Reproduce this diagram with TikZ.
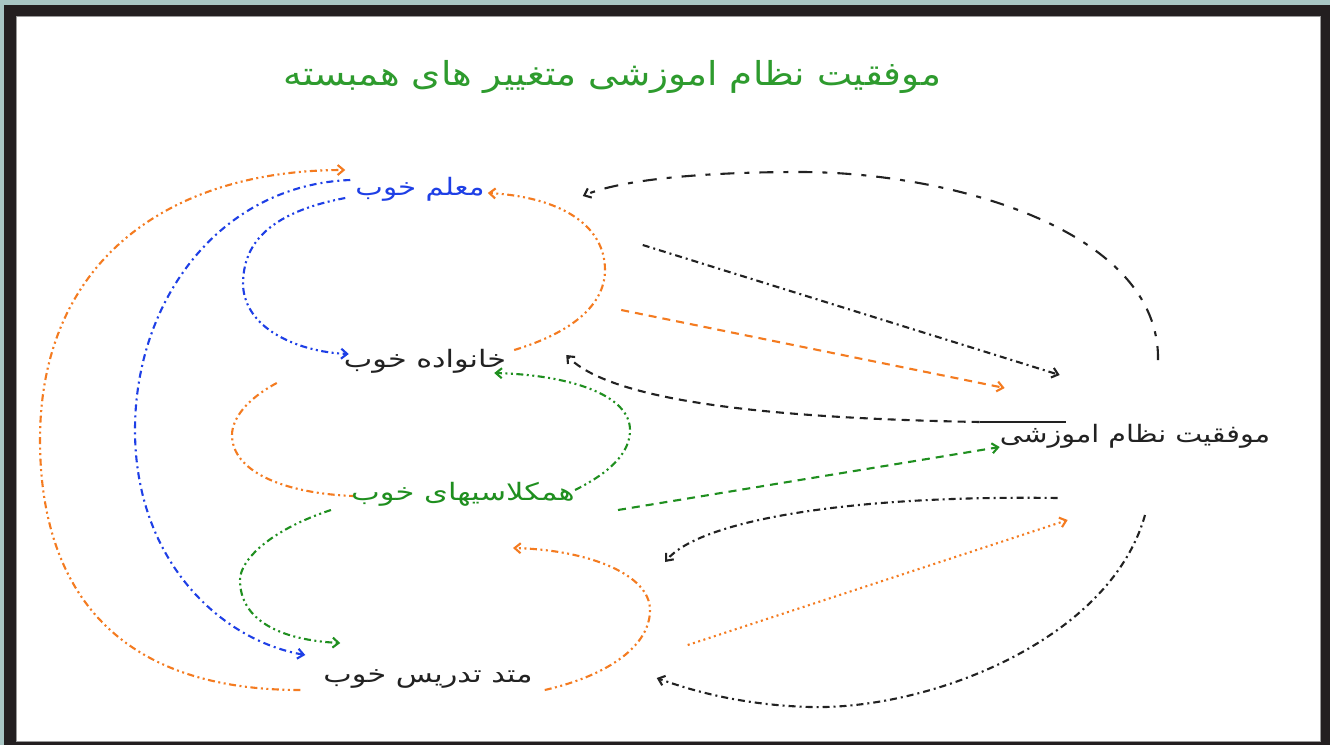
\documentclass[tikz,border=0pt]{standalone}
\usepackage{fontspec}
\usepackage{graphicx}
\newfontfamily\arabicfont[Script=Arabic]{DejaVu Sans}
\TeXXeTstate=1
\usetikzlibrary{arrows.meta}
\definecolor{orng}{HTML}{F47B20}
\definecolor{blu}{HTML}{1E3FE6}
\definecolor{grn}{HTML}{1F8F1F}
\definecolor{ttl}{HTML}{2E9B2E}
\definecolor{frm}{HTML}{231F20}
\definecolor{bgt}{HTML}{A8C6C4}
\definecolor{txt}{HTML}{222222}
\newcommand{\artxt}[2][1.25]{\scalebox{#1}[1]{\beginR #2\endR}}
\begin{document}
\begin{tikzpicture}[x=1pt,y=-1pt,
  lbl/.style={inner sep=0pt, font=\arabicfont\fontsize{24}{28}\selectfont},
  ttlstyle/.style={inner sep=0pt, font=\arabicfont\fontsize{33}{38}\selectfont, text=ttl},
  conn/.style={line width=2.1pt, -{Straight Barb[length=6pt,width=10pt]}},
  plain/.style={line width=2.1pt},
  dashdot/.style={dash pattern=on 7pt off 4pt on 2pt off 4pt},
  dashdotdot/.style={dash pattern=on 7pt off 3.5pt on 2pt off 3.5pt on 2pt off 3.5pt},
  dots/.style={dash pattern=on 2pt off 3.5pt},
  dsh/.style={dash pattern=on 8pt off 6pt},
  longdsh/.style={dash pattern=on 14pt off 10pt on 5pt off 10pt},
]
\useasboundingbox (0,0) rectangle (1330,745);
\fill[bgt] (0,0) rectangle (1330,745);
\fill[frm] (4,5) rectangle (1330,745);
\fill[white] (16,16) rectangle (1320,741);
\draw[gray!80, line width=1pt] (16,16) rectangle (1320,741);

\node[ttlstyle] (title) at (612,77) {\artxt[1.13]{موفقیت نظام اموزشی متغییر های همبسته}};

\node[lbl, text=blu] (m1) at (420,189) {\artxt[1.22]{معلم خوب}};
\node[lbl, text=txt] (m2) at (425,361) {\artxt[1.26]{خانواده خوب}};
\node[lbl, text=grn] (m3) at (463,494) {\artxt[1.27]{همکلاسیهای خوب}};
\node[lbl, text=txt] (m4) at (428,679) {\artxt[1.26]{متد تدریس خوب}};
\node[lbl, text=txt] (m5) at (1135,436) {\artxt[1.19]{موفقیت نظام اموزشی}};

% left loops
\draw[conn, orng, dashdotdot] ([shift={(-23,11)}]m4.west) .. controls (90,690) and (40,560) .. (40,440)
   .. controls (40,260) and (170,170) .. ([shift={(-10,-19)}]m1.west);
\draw[conn, blu, dashdot] ([shift={(-5,-9)}]m1.west) .. controls (220,185) and (135,300) .. (135,430)
   .. controls (135,560) and (220,640) .. ([shift={(-18,-24)}]m4.west);
\draw[conn, blu, dashdotdot] ([shift={(-10,9)}]m1.west) .. controls (255,215) and (243,255) .. (243,285)
   .. controls (245,330) and (300,352) .. ([shift={(5,-7)}]m2.west);
\draw[conn, orng, dashdotdot] ([shift={(8,-11)}]m2.east) .. controls (580,330) and (605,300) .. (605,270)
   .. controls (605,225) and (560,197) .. ([shift={(3,4)}]m1.east);
\draw[conn, grn, dashdotdot] ([shift={(0,-4)}]m3.east) .. controls (615,470) and (630,450) .. (630,430)
   .. controls (630,395) and (570,375) .. ([shift={(-12,12)}]m2.east);
\draw[plain, orng, dashdotdot] ([shift={(-67,22)}]m2.west) .. controls (245,400) and (232,420) .. (232,435)
   .. controls (232,470) and (280,493) .. ([shift={(2,2)}]m3.west);
\draw[conn, grn, dashdotdot] ([shift={(-20,16)}]m3.west) .. controls (270,530) and (240,560) .. (240,580)
   .. controls (240,620) and (280,640) .. ([shift={(17,-36)}]m4.west);
\draw[conn, orng, dashdotdot] ([shift={(12,11)}]m4.east) .. controls (610,675) and (650,645) .. (650,610)
   .. controls (650,575) and (590,550) .. ([shift={(50,54)}]m3.center);

% right side
\draw[conn, txt, longdsh] ([shift={(23,-76)}]m5.center) .. controls (1160,230) and (950,172) .. (800,172)
   .. controls (700,172) and (620,180) .. ([shift={(98,7)}]m1.east);
\draw[conn, txt, dashdot] ([shift={(158,56)}]m1.east) -- ([shift={(60,-61)}]m5.west);
\draw[conn, orng, dsh] ([shift={(115,-51)}]m2.east) -- ([shift={(5,-48)}]m5.west);
\draw[plain, txt] ([shift={(66,-14)}]m5.west) -- ([shift={(-20,-14)}]m5.west) coordinate (lsplit);
\draw[conn, txt, dsh] (lsplit) .. controls (760,418) and (610,400) .. ([shift={(60,-6)}]m2.east);
\draw[conn, grn, dsh] ([shift={(43,16)}]m3.east) -- ([shift={(0,11)}]m5.west);
\draw[conn, txt, dashdot] ([shift={(58,62)}]m5.west) .. controls (850,495) and (700,520) .. ([shift={(90,68)}]m3.east);
\draw[conn, orng, dots] ([shift={(155,-34)}]m4.east) -- ([shift={(68,84)}]m5.west);
\draw[conn, txt, dashdot] ([shift={(10,79)}]m5.center) .. controls (1110,640) and (930,710) .. (810,707)
   .. controls (740,705) and (690,690) .. ([shift={(124,-1)}]m4.east);
\end{tikzpicture}
\end{document}
